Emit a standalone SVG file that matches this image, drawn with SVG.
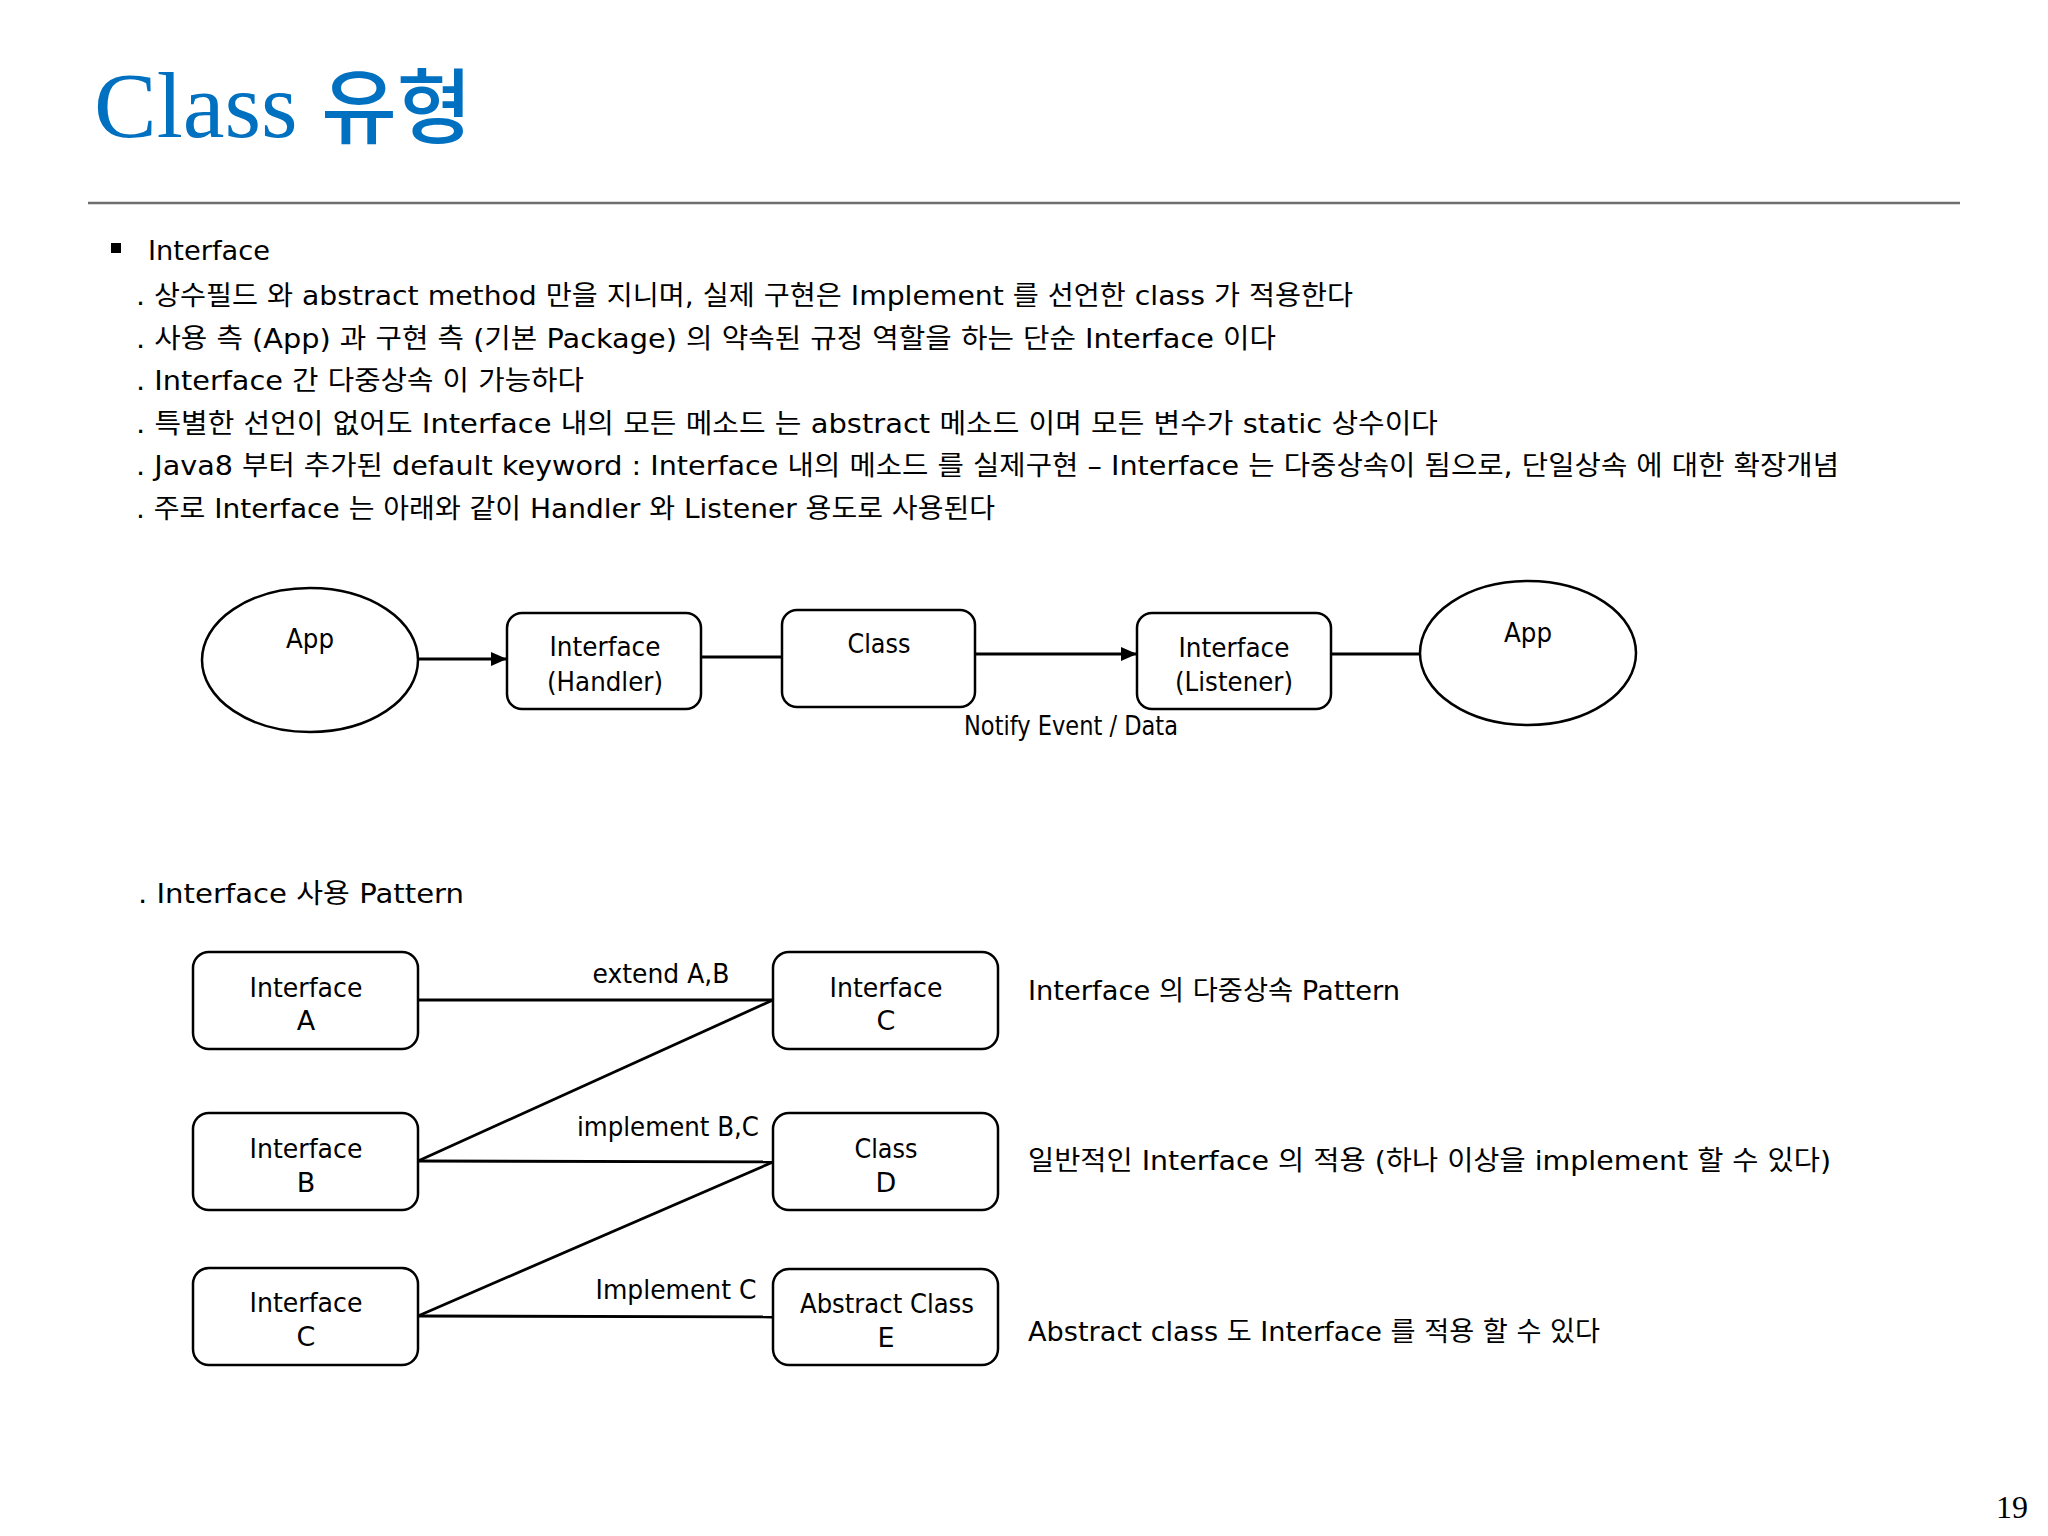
<svg xmlns="http://www.w3.org/2000/svg" width="2048" height="1536" viewBox="0 0 2048 1536">
<defs>
<style>
.t{font-family:"DejaVu Sans","Noto Sans CJK KR",sans-serif;font-size:27px;fill:#000}
.c{text-anchor:middle}
.box{fill:#fff;stroke:#000;stroke-width:2.5}
.ln{stroke:#000;stroke-width:2.8;fill:none}
</style>
<marker id="arr" viewBox="0 0 16 14" refX="16" refY="7" markerWidth="16" markerHeight="14" markerUnits="userSpaceOnUse" orient="auto">
<path d="M0,0 L16,7 L0,14 Z" fill="#000"/>
</marker>
</defs>
<rect width="2048" height="1536" fill="#fff"/>

<g id="title">
<text x="94" y="137" font-family="Liberation Serif,serif" font-size="94" fill="#0070C0">Class <tspan font-family="Noto Sans CJK KR,sans-serif" font-size="82" font-weight="500">유형</tspan></text>
<line x1="88" y1="203" x2="1960" y2="203" stroke="#6e6e6e" stroke-width="2.5"/>
</g>

<g id="body">
<rect x="111" y="243" width="10" height="10" fill="#000"/>
<text class="t" x="148" y="260" font-size="30" textLength="122" lengthAdjust="spacingAndGlyphs">Interface</text>
<text class="t" x="136" y="305" textLength="1217" lengthAdjust="spacingAndGlyphs">. 상수필드 와 abstract method 만을 지니며, 실제 구현은 Implement 를 선언한 class 가 적용한다</text>
<text class="t" x="136" y="347.5" textLength="1140" lengthAdjust="spacingAndGlyphs">. 사용 측 (App) 과 구현 측 (기본 Package) 의 약속된 규정 역할을 하는 단순 Interface 이다</text>
<text class="t" x="136" y="390" textLength="448" lengthAdjust="spacingAndGlyphs">. Interface 간 다중상속 이 가능하다</text>
<text class="t" x="136" y="432.5" textLength="1302" lengthAdjust="spacingAndGlyphs">. 특별한 선언이 없어도 Interface 내의 모든 메소드 는 abstract 메소드 이며 모든 변수가 static 상수이다</text>
<text class="t" x="136" y="475" textLength="1703" lengthAdjust="spacingAndGlyphs">. Java8 부터 추가된 default keyword : Interface 내의 메소드 를 실제구현 – Interface 는 다중상속이 됨으로, 단일상속 에 대한 확장개념</text>
<text class="t" x="136" y="517.5" textLength="859" lengthAdjust="spacingAndGlyphs">. 주로 Interface 는 아래와 같이 Handler 와 Listener 용도로 사용된다</text>
<text class="t" x="138" y="903" font-size="30" textLength="326" lengthAdjust="spacingAndGlyphs">. Interface 사용 Pattern</text>
</g>

<g id="connectors">
<line class="ln" x1="418" y1="659" x2="507" y2="659" marker-end="url(#arr)"/>
<line class="ln" x1="701" y1="657" x2="782" y2="657"/>
<line class="ln" x1="975" y1="654" x2="1137" y2="654" marker-end="url(#arr)"/>
<line class="ln" x1="1331" y1="654" x2="1420" y2="654"/>
<line class="ln" x1="418" y1="1000" x2="773" y2="1000"/>
<line class="ln" x1="418" y1="1161" x2="773" y2="1000"/>
<line class="ln" x1="418" y1="1161" x2="773" y2="1162"/>
<line class="ln" x1="418" y1="1316" x2="773" y2="1162"/>
<line class="ln" x1="418" y1="1316" x2="773" y2="1317"/>
<text class="t c" x="1071" y="735" textLength="214" lengthAdjust="spacingAndGlyphs">Notify Event / Data</text>
<text class="t c" x="661" y="983" textLength="137" lengthAdjust="spacingAndGlyphs">extend A,B</text>
<text class="t c" x="668" y="1136" textLength="182" lengthAdjust="spacingAndGlyphs">implement B,C</text>
<text class="t c" x="676" y="1299" textLength="161" lengthAdjust="spacingAndGlyphs">Implement C</text>
</g>

<g id="app1">
<ellipse class="box" cx="310" cy="660" rx="108" ry="72"/>
<text class="t c" x="310" y="648" textLength="48" lengthAdjust="spacingAndGlyphs">App</text>
</g>
<g id="handler">
<rect class="box" x="507" y="613" width="194" height="96" rx="15"/>
<text class="t c" x="605" y="656" textLength="111" lengthAdjust="spacingAndGlyphs">Interface</text>
<text class="t c" x="605" y="691" textLength="116" lengthAdjust="spacingAndGlyphs">(Handler)</text>
</g>
<g id="class">
<rect class="box" x="782" y="610" width="193" height="97" rx="15"/>
<text class="t c" x="879" y="653" textLength="63" lengthAdjust="spacingAndGlyphs">Class</text>
</g>
<g id="listener">
<rect class="box" x="1137" y="613" width="194" height="96" rx="15"/>
<text class="t c" x="1234" y="657" textLength="111" lengthAdjust="spacingAndGlyphs">Interface</text>
<text class="t c" x="1234" y="691" textLength="118" lengthAdjust="spacingAndGlyphs">(Listener)</text>
</g>
<g id="app2">
<ellipse class="box" cx="1528" cy="653" rx="108" ry="72"/>
<text class="t c" x="1528" y="642" textLength="48" lengthAdjust="spacingAndGlyphs">App</text>
</g>

<g id="ifaceA">
<rect class="box" x="193" y="952" width="225" height="97" rx="16"/>
<text class="t c" x="306" y="997" textLength="113" lengthAdjust="spacingAndGlyphs">Interface</text>
<text class="t c" x="306" y="1030">A</text>
</g>
<g id="ifaceB">
<rect class="box" x="193" y="1113" width="225" height="97" rx="16"/>
<text class="t c" x="306" y="1158" textLength="113" lengthAdjust="spacingAndGlyphs">Interface</text>
<text class="t c" x="306" y="1192">B</text>
</g>
<g id="ifaceC2">
<rect class="box" x="193" y="1268" width="225" height="97" rx="16"/>
<text class="t c" x="306" y="1312" textLength="113" lengthAdjust="spacingAndGlyphs">Interface</text>
<text class="t c" x="306" y="1346">C</text>
</g>
<g id="ifaceC">
<rect class="box" x="773" y="952" width="225" height="97" rx="16"/>
<text class="t c" x="886" y="997" textLength="113" lengthAdjust="spacingAndGlyphs">Interface</text>
<text class="t c" x="886" y="1030">C</text>
</g>
<g id="classD">
<rect class="box" x="773" y="1113" width="225" height="97" rx="16"/>
<text class="t c" x="886" y="1158" textLength="63" lengthAdjust="spacingAndGlyphs">Class</text>
<text class="t c" x="886" y="1192">D</text>
</g>
<g id="abstractE">
<rect class="box" x="773" y="1269" width="225" height="96" rx="16"/>
<text class="t c" x="887" y="1313" textLength="174" lengthAdjust="spacingAndGlyphs">Abstract Class</text>
<text class="t c" x="886" y="1347">E</text>
</g>

<g id="notes">
<text class="t" x="1028" y="1000" textLength="372" lengthAdjust="spacingAndGlyphs">Interface 의 다중상속 Pattern</text>
<text class="t" x="1028" y="1170" textLength="803" lengthAdjust="spacingAndGlyphs">일반적인 Interface 의 적용 (하나 이상을 implement 할 수 있다)</text>
<text class="t" x="1028" y="1341" textLength="572" lengthAdjust="spacingAndGlyphs">Abstract class 도 Interface 를 적용 할 수 있다</text>
</g>

<text x="1996" y="1518" font-family="Liberation Serif,serif" font-size="32" fill="#000">19</text>
</svg>
